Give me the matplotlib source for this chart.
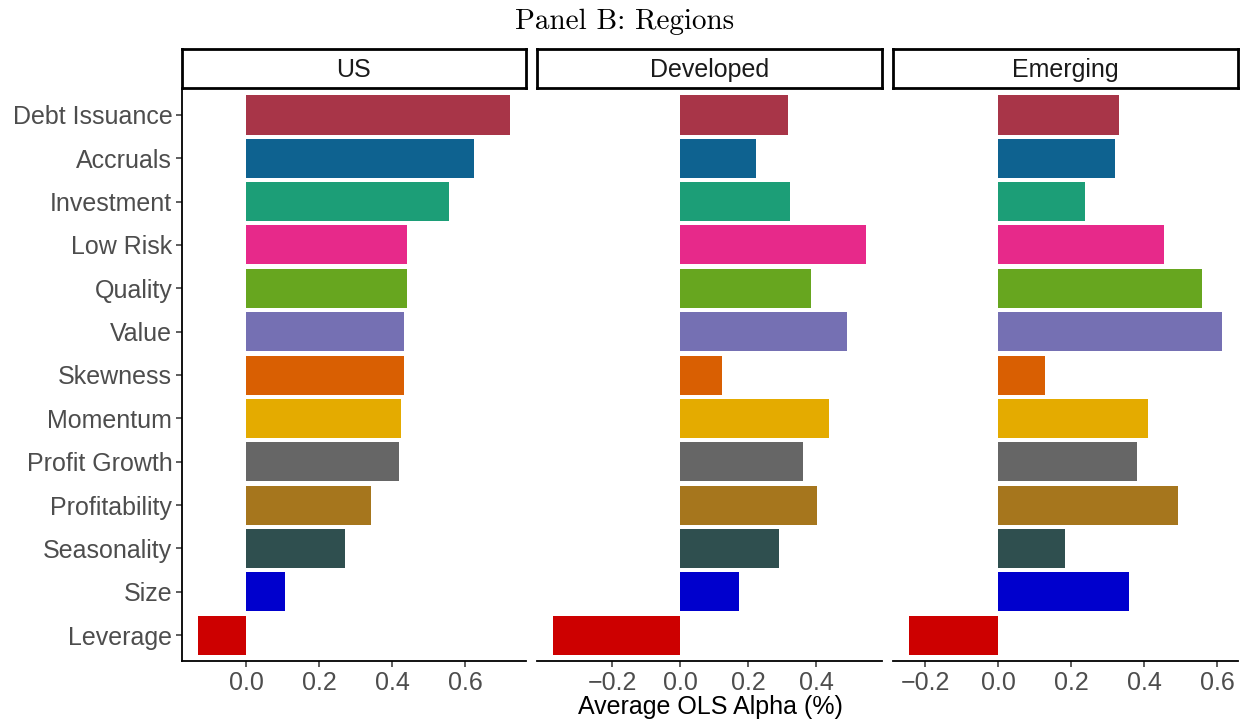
import matplotlib
matplotlib.use("Agg")
import matplotlib.pyplot as plt
from matplotlib.ticker import FuncFormatter

# Average OLS alpha by factor theme, per region
themes = ['Debt Issuance', 'Accruals', 'Investment', 'Low Risk', 'Quality', 'Value',
          'Skewness', 'Momentum', 'Profit Growth', 'Profitability', 'Seasonality',
          'Size', 'Leverage']
colors = ['#A83548', '#0E6290', '#1C9E77', '#E7298A', '#67A61F', '#7570B3',
          '#D95F02', '#E4AB00', '#666666', '#A6761D', '#2F4F4F', '#0000CD', '#CD0000']

regions = ['US', 'Developed', 'Emerging']
alpha_us = [0.724, 0.623, 0.555, 0.440, 0.440, 0.432, 0.432, 0.424, 0.418, 0.342, 0.270, 0.107, -0.134]
alpha_dev = [0.316, 0.222, 0.322, 0.548, 0.386, 0.492, 0.124, 0.439, 0.360, 0.404, 0.292, 0.174, -0.376]
alpha_em = [0.331, 0.320, 0.238, 0.453, 0.557, 0.614, 0.129, 0.410, 0.380, 0.492, 0.184, 0.358, -0.245]
region_vals = [alpha_us, alpha_dev, alpha_em]

x_ticks = [[0.0, 0.2, 0.4, 0.6],
           [-0.2, 0.0, 0.2, 0.4],
           [-0.2, 0.0, 0.2, 0.4, 0.6]]

plt.rcParams['font.family'] = ['Liberation Sans', 'DejaVu Sans']
plt.rcParams['axes.unicode_minus'] = True

W, H = 1247, 723
fig = plt.figure(figsize=(W / 100, H / 100), dpi=100)


def rect(x0, x1, y0, y1):
    return [x0 / W, 1 - y1 / H, (x1 - x0) / W, (y1 - y0) / H]


panel_x = [(182, 526), (537, 882), (893, 1238)]
panel_top, panel_bot = 89, 661
strip_top, strip_bot = 49, 88

n = len(themes)
ypos = list(range(n, 0, -1))  # Debt Issuance on top

fmt = FuncFormatter(lambda v, p: ('%.1f' % v).replace('-', '\u2212'))

for i, (region, vals) in enumerate(zip(regions, region_vals)):
    x0, x1 = panel_x[i]
    ax = fig.add_axes(rect(x0, x1, panel_top, panel_bot))
    ax.barh(ypos, vals, height=0.9, color=colors)
    lo, hi = min(vals), max(vals)
    pad = 0.05 * (hi - lo)
    ax.set_xlim(min(lo, 0) - pad, max(hi, 0) + pad)
    ax.set_ylim(0.4, n + 0.6)
    ax.set_xticks(x_ticks[i])
    ax.xaxis.set_major_formatter(fmt)
    for s in ['top', 'right']:
        ax.spines[s].set_visible(False)
    ax.spines['bottom'].set_linewidth(1.3)
    ax.spines['left'].set_linewidth(1.3)
    ax.tick_params(axis='both', colors='#333333', labelcolor='#4D4D4D',
                   labelsize=18, length=4, width=1.1, pad=3)
    if i == 0:
        ax.set_yticks(ypos)
        ax.set_yticklabels(themes)
    else:
        ax.spines['left'].set_visible(False)
        ax.set_yticks([])

    # facet strip
    sa = fig.add_axes(rect(x0, x1, strip_top, strip_bot))
    sa.set_xticks([])
    sa.set_yticks([])
    for s in sa.spines.values():
        s.set_linewidth(2.0)
        s.set_color('black')
    sa.text(0.5, 0.47, region, ha='center', va='center', fontsize=18,
            color='#1A1A1A', transform=sa.transAxes)

fig.text(625 / W, 1 - 22 / H, 'Panel B: Regions', ha='center', va='center',
         fontsize=21, family=['cmr10', 'DejaVu Serif'])
fig.text(710 / W, 1 - 707 / H, 'Average OLS Alpha (%)', ha='center', va='center',
         fontsize=18, color='black')

fig.savefig('out.png', dpi=100)
